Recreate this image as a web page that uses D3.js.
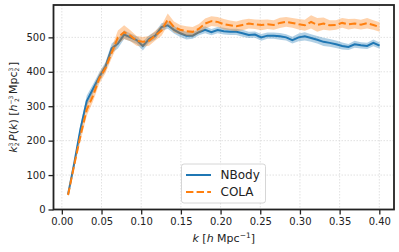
<!DOCTYPE html>
<html>
<head>
<meta charset="utf-8">
<style>
body { margin: 0; background: white; }
svg { font-family: "DejaVu Sans", sans-serif; }
.grid line { stroke: #d9d9d9; stroke-width: 0.8; stroke-dasharray: 1.5,1.5; }
</style>
</head>
<body>
<svg width="399" height="252"></svg>
<script src="https://d3js.org/d3.v7.min.js"></script>
<script>
// data
var kStep = 0.00785;
var nbody = [44, 135, 235, 315, 350, 385, 415, 468, 482, 508,
             500, 492, 475, 495, 505, 530, 535, 522, 512, 505,
             505, 515, 522, 515, 521, 518, 516, 516, 512, 507,
             508, 500, 505, 505, 503, 500, 492, 500, 503, 498,
             493, 487, 484, 480, 475, 472, 480, 477, 475, 484, 476];
var nbodyErr = [5, 8, 12, 16, 14, 13, 13, 14, 14, 13,
                11, 11, 13, 11, 11, 11, 10, 11, 11, 11,
                9, 9, 10, 9, 9, 10, 9, 9, 10, 9,
                9, 10, 9, 9, 10, 9, 10, 11, 12, 11,
                11, 12, 11, 11, 10, 9, 10, 9, 9, 10, 9];
var cola = [42, 130, 215, 290, 330, 380, 410, 455, 500, 515,
            505, 490, 487, 490, 505, 520, 552, 530, 522, 518,
            516, 525, 540, 547, 545, 538, 535, 532, 536, 540,
            538, 536, 538, 536, 542, 545, 542, 538, 535, 545,
            536, 540, 535, 536, 542, 538, 540, 537, 541, 536, 530];
var colaErr = [5, 8, 16, 18, 16, 15, 14, 16, 20, 20,
               16, 14, 14, 14, 14, 15, 17, 16, 14, 14,
               14, 14, 15, 14, 14, 15, 14, 14, 15, 14,
               14, 15, 14, 14, 15, 14, 14, 15, 16, 19,
               20, 18, 15, 14, 14, 15, 14, 14, 15, 14, 14];
var xTicks = [0, 0.05, 0.10, 0.15, 0.20, 0.25, 0.30, 0.35, 0.40];
var yTicks = [0, 100, 200, 300, 400, 500];

var kVals = nbody.map(function(d, i) { return kStep * (i + 1); });

var svg = d3.select("svg");
var L = 53.5, R = 394, T = 5, B = 209.5;

var x = d3.scaleLinear().domain([-0.0105, 0.4185]).range([L, R]);
var y = d3.scaleLinear().domain([0, 594]).range([B, T]);

// grid
var grid = svg.append("g").attr("class", "grid");
grid.selectAll(".gx").data(xTicks).enter().append("line")
    .attr("x1", function(d) { return x(d); }).attr("x2", function(d) { return x(d); })
    .attr("y1", T).attr("y2", B);
grid.selectAll(".gy").data(yTicks).enter().append("line")
    .attr("x1", L).attr("x2", R)
    .attr("y1", function(d) { return y(d); }).attr("y2", function(d) { return y(d); });

var area = function(vals, errs) {
  return d3.area()
    .x(function(d, i) { return x(kVals[i]); })
    .y0(function(d, i) { return y(vals[i] - errs[i]); })
    .y1(function(d, i) { return y(vals[i] + errs[i]); })(vals);
};
var line = d3.line()
    .x(function(d, i) { return x(kVals[i]); })
    .y(function(d) { return y(d); });

svg.append("path").attr("d", area(nbody, nbodyErr))
    .attr("fill", "#1f77b4").attr("fill-opacity", 0.35);
svg.append("path").attr("d", line(nbody))
    .attr("fill", "none").attr("stroke", "#1f77b4").attr("stroke-width", 2);
svg.append("path").attr("d", area(cola, colaErr))
    .attr("fill", "#ff7f0e").attr("fill-opacity", 0.35);
svg.append("path").attr("d", line(cola))
    .attr("fill", "none").attr("stroke", "#ff7f0e").attr("stroke-width", 2)
    .attr("stroke-dasharray", "7.4,3.2");

// axes
var xAxis = svg.append("g").attr("transform", "translate(0," + B + ")")
    .call(d3.axisBottom(x).tickValues(xTicks).tickSize(5).tickPadding(3)
      .tickFormat(d3.format(".2f")));
var yAxis = svg.append("g").attr("transform", "translate(" + L + ",0)")
    .call(d3.axisLeft(y).tickValues(yTicks).tickSize(5).tickPadding(3));
[xAxis, yAxis].forEach(function(a) {
  a.select(".domain").remove();
  a.selectAll("line").attr("stroke", "#222").attr("stroke-width", 1.3);
  a.selectAll("text").attr("font-family", "DejaVu Sans").attr("font-size", 10).attr("fill", "#222");
});

// frame
svg.append("rect").attr("x", L).attr("y", T).attr("width", R - L).attr("height", B - T)
    .attr("fill", "none").attr("stroke", "#222").attr("stroke-width", 1.8);

// x label
var xl = svg.append("text").attr("x", (L + R) / 2).attr("y", 242)
    .attr("text-anchor", "middle").attr("font-size", 11).attr("fill", "#222");
xl.append("tspan").attr("font-style", "italic").text("k");
xl.append("tspan").text(" [");
xl.append("tspan").attr("font-style", "italic").text("h");
xl.append("tspan").text(" Mpc");
xl.append("tspan").attr("font-size", 7.5).attr("dy", -4).text("\u22121");
xl.append("tspan").attr("dy", 4).text("]");

// y label with stacked fraction exponents
var yl = svg.append("text").attr("transform", "translate(17," + ((T + B) / 2) + ") rotate(-90)")
    .attr("text-anchor", "middle").attr("font-size", 11).attr("fill", "#222");
function frac(num, den, wNum, wDen) {
  yl.append("tspan").attr("font-size", 6).attr("dy", -4.5).text(num);
  yl.append("tspan").attr("font-size", 6).attr("dx", -(wNum + wDen) / 2).attr("dy", 6.5).text(den);
  yl.append("tspan").attr("font-size", 11).attr("dx", (wNum - wDen) / 2 + 0.5).attr("dy", -2).text("\u200a");
}
yl.append("tspan").attr("font-style", "italic").text("k");
frac("3", "2", 3.8, 3.8);
yl.append("tspan").attr("font-style", "italic").text("P");
yl.append("tspan").text("(");
yl.append("tspan").attr("font-style", "italic").text("k");
yl.append("tspan").text(") [");
yl.append("tspan").attr("font-style", "italic").text("h");
frac("\u22123", "2", 8.8, 3.8);
yl.append("tspan").text("Mpc");
frac("3", "2", 3.8, 3.8);
yl.append("tspan").text("]");

// legend
var lg = svg.append("g");
lg.append("rect").attr("x", 181.5).attr("y", 164).attr("width", 84).attr("height", 39)
    .attr("rx", 2.5).attr("fill", "white").attr("fill-opacity", 0.8)
    .attr("stroke", "#ccc").attr("stroke-width", 0.8);
var items = [{name: "NBody", color: "#1f77b4", dash: null},
             {name: "COLA", color: "#ff7f0e", dash: "7.4,3.2"}];
items.forEach(function(it, i) {
  var yy = 175 + i * 17;
  lg.append("line").attr("x1", 186).attr("x2", 211).attr("y1", yy).attr("y2", yy)
    .attr("stroke", it.color).attr("stroke-width", 2)
    .attr("stroke-dasharray", it.dash);
  lg.append("text").attr("x", 220.5).attr("y", yy + 4.3).attr("font-size", 12)
    .attr("fill", "#222").text(it.name);
});
</script>
</body>
</html>
